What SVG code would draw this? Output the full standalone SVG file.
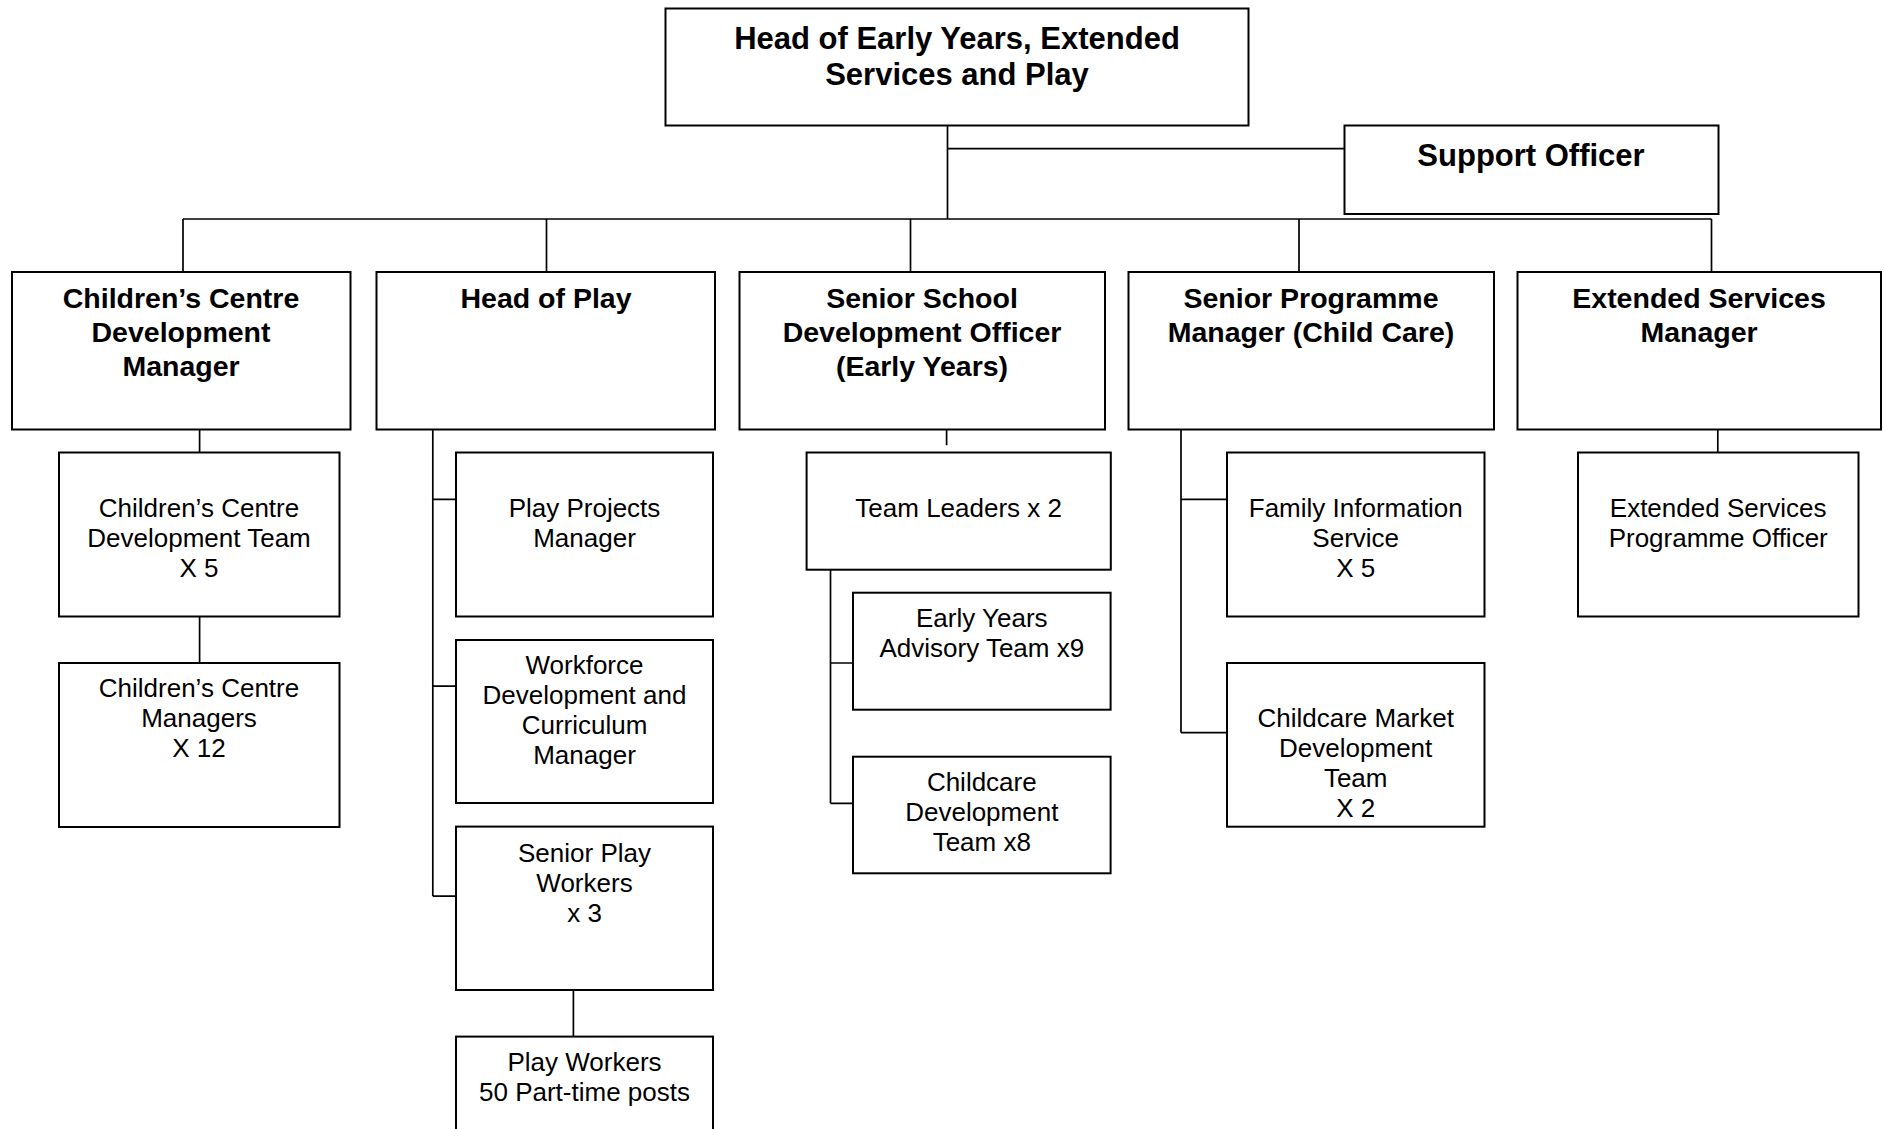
<svg xmlns="http://www.w3.org/2000/svg" width="1885" height="1129" viewBox="0 0 1885 1129">
<style>
.box{fill:#fff;stroke:#000;stroke-width:2}
.ln{fill:none;stroke:#000;stroke-width:1.7}
text{font-family:"Liberation Sans",Arial,sans-serif;fill:#000;text-anchor:middle}
.t1{font-size:31px;font-weight:bold}
.t2{font-size:28.5px;font-weight:bold}
.t3{font-size:26px}
</style>
<rect width="1885" height="1129" fill="#fff"/>
<g id="connectors">
<path class="ln" d="M947.5 125V219M947.5 148.7H1344.5M183 219H1711.5"/>
<path class="ln" d="M183 219V272M546.5 219V272M910.5 219V272M1299 219V272M1711.5 219V272"/>
<path class="ln" d="M199.6 429.7V452.5M199.6 616.6V663"/>
<path class="ln" d="M432.8 429.7V896.1M432.8 499.3H456M432.8 686.1H456M432.8 896.1H456M573.4 990V1036.6"/>
<path class="ln" d="M946.6 429.7V445.3M830.5 569.7V803.3M830.5 663H853M830.5 803.3H853"/>
<path class="ln" d="M1181 429.7V732.7M1181 499.3H1227M1181 732.7H1227"/>
<path class="ln" d="M1717.8 429.7V452.5"/>
</g>
<g id="head"><rect class="box" x="665.5" y="8.5" width="583" height="117"/>
<text class="t1" x="957" y="48.5">Head of Early Years, Extended</text>
<text class="t1" x="957" y="84.5">Services and Play</text></g>
<g id="support"><rect class="box" x="1344.5" y="125.5" width="374" height="88.5"/>
<text class="t1" x="1531" y="166">Support Officer</text></g>
<g id="ccdm"><rect class="box" x="12" y="272" width="338.5" height="157.5"/>
<text class="t2" x="181" y="308">Children’s Centre</text>
<text class="t2" x="181" y="342">Development</text>
<text class="t2" x="181" y="375.5">Manager</text></g>
<g id="hop"><rect class="box" x="376.5" y="272" width="338.5" height="157.5"/>
<text class="t2" x="546" y="308">Head of Play</text></g>
<g id="ssdo"><rect class="box" x="739.5" y="272" width="365.5" height="157.5"/>
<text class="t2" x="922" y="308">Senior School</text>
<text class="t2" x="922" y="342">Development Officer</text>
<text class="t2" x="922" y="375.5">(Early Years)</text></g>
<g id="spm"><rect class="box" x="1128.5" y="272" width="365.5" height="157.5"/>
<text class="t2" x="1311" y="308">Senior Programme</text>
<text class="t2" x="1311" y="342">Manager (Child Care)</text></g>
<g id="esm"><rect class="box" x="1517.5" y="272" width="363.5" height="157.5"/>
<text class="t2" x="1699" y="308">Extended Services</text>
<text class="t2" x="1699" y="342">Manager</text></g>
<g id="ccdt"><rect class="box" x="59" y="452.5" width="280.5" height="164"/>
<text class="t3" x="199" y="516.5">Children’s Centre</text>
<text class="t3" x="199" y="546.5">Development Team</text>
<text class="t3" x="199" y="576.5">X 5</text></g>
<g id="ccm"><rect class="box" x="59" y="663" width="280.5" height="164"/>
<text class="t3" x="199" y="697">Children’s Centre</text>
<text class="t3" x="199" y="727">Managers</text>
<text class="t3" x="199" y="757">X 12</text></g>
<g id="ppm"><rect class="box" x="456" y="452.5" width="257" height="164"/>
<text class="t3" x="584.5" y="516.5">Play Projects</text>
<text class="t3" x="584.5" y="546.5">Manager</text></g>
<g id="wdcm"><rect class="box" x="456" y="640" width="257" height="163"/>
<text class="t3" x="584.5" y="674">Workforce</text>
<text class="t3" x="584.5" y="704">Development and</text>
<text class="t3" x="584.5" y="734">Curriculum</text>
<text class="t3" x="584.5" y="764">Manager</text></g>
<g id="spw"><rect class="box" x="456" y="826.6" width="257" height="163.4"/>
<text class="t3" x="584.5" y="861.7">Senior Play</text>
<text class="t3" x="584.5" y="891.7">Workers</text>
<text class="t3" x="584.5" y="921.8">x 3</text></g>
<g id="pw"><rect class="box" x="456" y="1036.6" width="257" height="110"/>
<text class="t3" x="584.5" y="1070.8">Play Workers</text>
<text class="t3" x="584.5" y="1100.9">50 Part-time posts</text></g>
<g id="tl"><rect class="box" x="806.6" y="452.5" width="304.2" height="117.2"/>
<text class="t3" x="958.7" y="516.5">Team Leaders x 2</text></g>
<g id="eyat"><rect class="box" x="853" y="592.7" width="257.6" height="117"/>
<text class="t3" x="981.8" y="627.2">Early Years</text>
<text class="t3" x="981.8" y="657.3">Advisory Team x9</text></g>
<g id="cdt"><rect class="box" x="853" y="756.7" width="257.6" height="116.6"/>
<text class="t3" x="981.8" y="790.7">Childcare</text>
<text class="t3" x="981.8" y="820.8">Development</text>
<text class="t3" x="981.8" y="850.8">Team x8</text></g>
<g id="fis"><rect class="box" x="1227" y="452.5" width="257.5" height="164"/>
<text class="t3" x="1355.7" y="516.5">Family Information</text>
<text class="t3" x="1355.7" y="546.5">Service</text>
<text class="t3" x="1355.7" y="576.5">X 5</text></g>
<g id="cmdt"><rect class="box" x="1227" y="663" width="257.5" height="163.7"/>
<text class="t3" x="1355.7" y="727">Childcare Market</text>
<text class="t3" x="1355.7" y="757">Development</text>
<text class="t3" x="1355.7" y="787">Team</text>
<text class="t3" x="1355.7" y="817">X 2</text></g>
<g id="espo"><rect class="box" x="1578" y="452.5" width="280.5" height="164"/>
<text class="t3" x="1718.2" y="516.5">Extended Services</text>
<text class="t3" x="1718.2" y="546.5">Programme Officer</text></g>
</svg>
